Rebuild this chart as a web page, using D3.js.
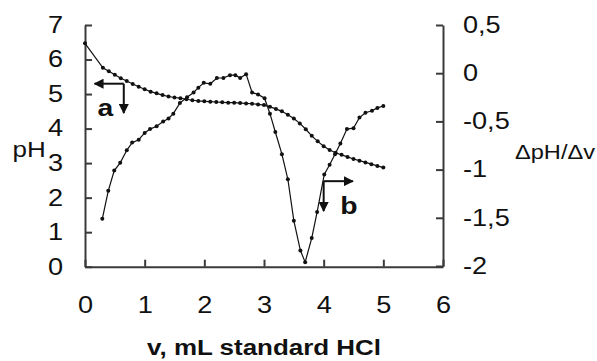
<!DOCTYPE html>
<html>
<head>
<meta charset="utf-8">
<script src="https://cdn.jsdelivr.net/npm/d3@7"></script>
<style>
  html, body { margin: 0; padding: 0; background: #fff; }
  svg { display: block; }
  text { font-family: Arial, "Liberation Sans", sans-serif; fill: #111; }
</style>
</head>
<body>
<svg id="chart" width="597" height="361"></svg>
<script>
// ---- data ----
const volumeA = [0, 0.3, 0.4, 0.5, 0.6, 0.7, 0.8, 0.9, 1.0, 1.1, 1.2, 1.3, 1.4, 1.5, 1.6, 1.7, 1.8, 1.9, 2.0,
  2.1, 2.2, 2.3, 2.4, 2.5, 2.6, 2.7, 2.8, 2.9, 3.0, 3.1, 3.2, 3.3, 3.4, 3.5, 3.6, 3.7, 3.8, 3.9, 4.0,
  4.1, 4.2, 4.3, 4.4, 4.5, 4.6, 4.7, 4.8, 4.9, 5.0];
const pHValues = [6.47, 5.76, 5.66, 5.56, 5.46, 5.38, 5.29, 5.21, 5.14, 5.07, 5.02, 4.97, 4.93, 4.90, 4.88, 4.85, 4.82, 4.80, 4.79,
  4.78, 4.77, 4.76, 4.75, 4.75, 4.74, 4.73, 4.72, 4.70, 4.68, 4.63, 4.57, 4.50, 4.40, 4.29, 4.15, 3.98, 3.79, 3.63, 3.49,
  3.38, 3.30, 3.24, 3.18, 3.12, 3.07, 3.02, 2.97, 2.92, 2.87];

const volumeB = [0.29, 0.39, 0.49, 0.59, 0.70, 0.79, 0.90, 1.00, 1.09, 1.20, 1.31, 1.40, 1.48, 1.59, 1.71, 1.82, 1.90, 1.99,
  2.10, 2.21, 2.32, 2.43, 2.52, 2.60, 2.70, 2.80, 2.90, 3.01, 3.10, 3.19, 3.30, 3.40, 3.50, 3.61, 3.69, 3.80, 3.89, 4.01,
  4.10, 4.19, 4.28, 4.39, 4.50, 4.60, 4.70, 4.81, 4.90, 5.00];
const dpHValues = [-1.51, -1.22, -1.01, -0.93, -0.80, -0.72, -0.69, -0.62, -0.58, -0.55, -0.50, -0.47, -0.42, -0.31, -0.25, -0.20, -0.15, -0.10,
  -0.11, -0.05, -0.05, -0.02, -0.02, -0.05, -0.01, -0.20, -0.22, -0.26, -0.42, -0.61, -0.84, -1.10, -1.53, -1.84, -1.96, -1.71, -1.44, -1.05,
  -0.95, -0.84, -0.73, -0.58, -0.57, -0.46, -0.41, -0.39, -0.36, -0.34];

const xTicks = [0, 1, 2, 3, 4, 5, 6];
const leftTicks = [0, 1, 2, 3, 4, 5, 6, 7];
const rightTicks = [-2, -1.5, -1, -0.5, 0, 0.5];
const xTitle = "v, mL standard HCl";
const leftTitle = "pH";
const rightTitle = "ΔpH/Δv";

// ---- layout ----
const S = 1.18; // horizontal glyph stretch of the source picture
const svg = d3.select("#chart");
const x = d3.scaleLinear().domain([0, 6]).range([85, 443]);
const yL = d3.scaleLinear().domain([0, 7]).range([266.7, 25]);
const yR = d3.scaleLinear().domain([-2, 0.5]).range([266, 25]);
const axisColor = "#3a3a3a";
const fmt = d => String(d).replace(".", ",");

function styleAxis(g) {
  g.selectAll("path.domain").attr("stroke", axisColor).attr("stroke-width", 2);
  g.selectAll(".tick line").attr("stroke", axisColor).attr("stroke-width", 2);
  g.selectAll("text").attr("font-size", 23).attr("fill", "#111")
    .attr("font-family", "Arial, 'Liberation Sans', sans-serif");
}

// bottom axis
const gx = svg.append("g").attr("transform", `translate(0,${yL(0)})`)
  .call(d3.axisBottom(x).tickValues(xTicks).tickFormat(d3.format("d"))
    .tickSizeInner(-7).tickSizeOuter(0).tickPadding(30));
styleAxis(gx);
gx.selectAll("text").attr("transform", `scale(${S},1)`);

// left axis
const gl = svg.append("g").attr("transform", `translate(${x(0)},0)`)
  .call(d3.axisLeft(yL).tickValues(leftTicks).tickFormat(d3.format("d"))
    .tickSizeInner(-7).tickSizeOuter(0).tickPadding(22));
styleAxis(gl);
gl.selectAll("text").attr("x", -22 / S).attr("transform", `scale(${S},1)`);

// right axis
const gr = svg.append("g").attr("transform", `translate(${x(6)},0)`)
  .call(d3.axisRight(yR).tickValues(rightTicks).tickFormat(fmt)
    .tickSizeInner(-7).tickSizeOuter(0).tickPadding(20));
styleAxis(gr);
gr.selectAll("text").attr("x", 20 / S).attr("transform", `scale(${S},1)`);

// ---- series ----
const dataA = volumeA.map((v, i) => ({ v, y: pHValues[i] }));
const dataB = volumeB.map((v, i) => ({ v, y: dpHValues[i] }));

const lineA = d3.line().x(d => x(d.v)).y(d => yL(d.y));
const lineB = d3.line().x(d => x(d.v)).y(d => yR(d.y));

svg.append("path").datum(dataA).attr("d", lineA)
  .attr("fill", "none").attr("stroke", "#111").attr("stroke-width", 1.2);
svg.append("path").datum(dataB).attr("d", lineB)
  .attr("fill", "none").attr("stroke", "#111").attr("stroke-width", 1.2);

svg.append("g").selectAll("circle").data(dataA).join("circle")
  .attr("cx", d => x(d.v)).attr("cy", d => yL(d.y)).attr("r", 2).attr("fill", "#111");
svg.append("g").selectAll("circle").data(dataB).join("circle")
  .attr("cx", d => x(d.v)).attr("cy", d => yR(d.y)).attr("r", 2).attr("fill", "#111");

// ---- arrows (series indicators) ----
const defs = svg.append("defs");
defs.append("marker").attr("id", "ah").attr("viewBox", "0 0 10 10")
  .attr("refX", 9).attr("refY", 5).attr("markerWidth", 5).attr("markerHeight", 5)
  .attr("markerUnits", "strokeWidth").attr("orient", "auto")
  .append("path").attr("d", "M0,0 L10,5 L0,10 Z").attr("fill", "#111");

function arrow(x1, y1, x2, y2) {
  svg.append("line").attr("x1", x1).attr("y1", y1).attr("x2", x2).attr("y2", y2)
    .attr("stroke", "#111").attr("stroke-width", 2).attr("marker-end", "url(#ah)");
}
// arrow a: points to left (pH) axis
arrow(x(0.65), yL(5.3), x(0.16), yL(5.3));
arrow(x(0.65), yL(5.3), x(0.65), yL(4.45));
// arrow b: points to right (dpH/dv) axis
arrow(x(4.0), yR(-1.12), x(4.49), yR(-1.12));
arrow(x(4.0), yR(-1.12), x(4.0), yR(-1.43));

function stretchedText(tx, ty, str, size, weight, anchor) {
  svg.append("text").attr("transform", `translate(${tx},${ty}) scale(${S},1)`)
    .attr("font-size", size).attr("font-weight", weight)
    .attr("text-anchor", anchor || "start").text(str);
}
stretchedText(x(0.21), yL(4.36), "a", 24, "bold");
stretchedText(x(4.28), yR(-1.46), "b", 24, "bold");

// ---- titles ----
stretchedText(12.5, 157, leftTitle, 22, "normal");
stretchedText(515, 159, rightTitle, 20, "normal");
stretchedText((x(0) + x(6)) / 2, 355, xTitle, 22, "bold", "middle");
</script>
</body>
</html>
